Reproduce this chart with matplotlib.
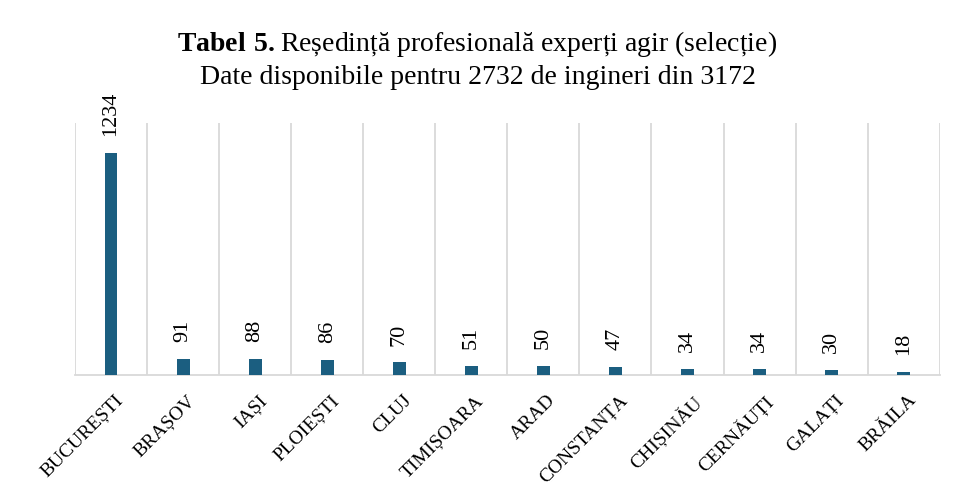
import matplotlib
matplotlib.use("Agg")
import matplotlib.pyplot as plt
import numpy as np

# ---------- data ----------
orase = ["BUCUREȘTI", "BRAȘOV", "IAȘI", "PLOIEȘTI", "CLUJ", "TIMIȘOARA",
         "ARAD", "CONSTANȚA", "CHIȘINĂU", "CERNĂUȚI", "GALAȚI", "BRĂILA"]
experti = [1234, 91, 88, 86, 70, 51, 50, 47, 34, 34, 30, 18]

titlu_1 = r"$\mathbf{Tabel\ 5.}$Reședință profesională experți agir (selecție)"
titlu_2 = "Date disponibile pentru 2732 de ingineri din 3172"

BAR_COLOR = "#1B5E80"
GRID_COLOR = "#D9D9D9"
FONT = "Liberation Serif"

plt.rcParams["font.family"] = [FONT, "DejaVu Serif"]
plt.rcParams["mathtext.fontset"] = "custom"
plt.rcParams["mathtext.bf"] = f"{FONT}:bold"
plt.rcParams["mathtext.rm"] = FONT

fig = plt.figure(figsize=(9.55, 5.01), dpi=100)
ax = fig.add_axes([0.0785, 0.2515, 0.9055, 0.503])

x = np.arange(len(orase))
ax.bar(x, experti, width=0.18, color=BAR_COLOR, zorder=3)

for xi, v in zip(x, experti):
    ax.annotate(str(v), (xi, v), xytext=(0, 12), textcoords="offset points",
                rotation=90, ha="center", va="bottom", fontsize=16)

ax.set_xlim(-0.5, len(orase) - 0.5)
ax.set_ylim(0, 1400)
ax.set_yticks([])

ax.set_xticks(x + 0.05)
ax.set_xticklabels(orase, rotation=45, ha="right", rotation_mode="anchor",
                   fontsize=14)
ax.tick_params(axis="x", length=0, pad=12)

# category separators
ax.set_xticks(np.arange(-0.5, len(orase)), minor=True)
ax.tick_params(axis="x", which="minor", length=0)
ax.grid(axis="x", which="minor", color=GRID_COLOR, linewidth=1.3, zorder=0)

for s in ("top", "left", "right"):
    ax.spines[s].set_visible(False)
ax.spines["bottom"].set_color(GRID_COLOR)
ax.spines["bottom"].set_linewidth(1.3)

fig.text(0.5, 1 - 44 / 501, titlu_1, ha="center", va="center", fontsize=20)
fig.text(0.5, 1 - 78 / 501, titlu_2, ha="center", va="center", fontsize=20)

fig.savefig("out.png", dpi=100)
